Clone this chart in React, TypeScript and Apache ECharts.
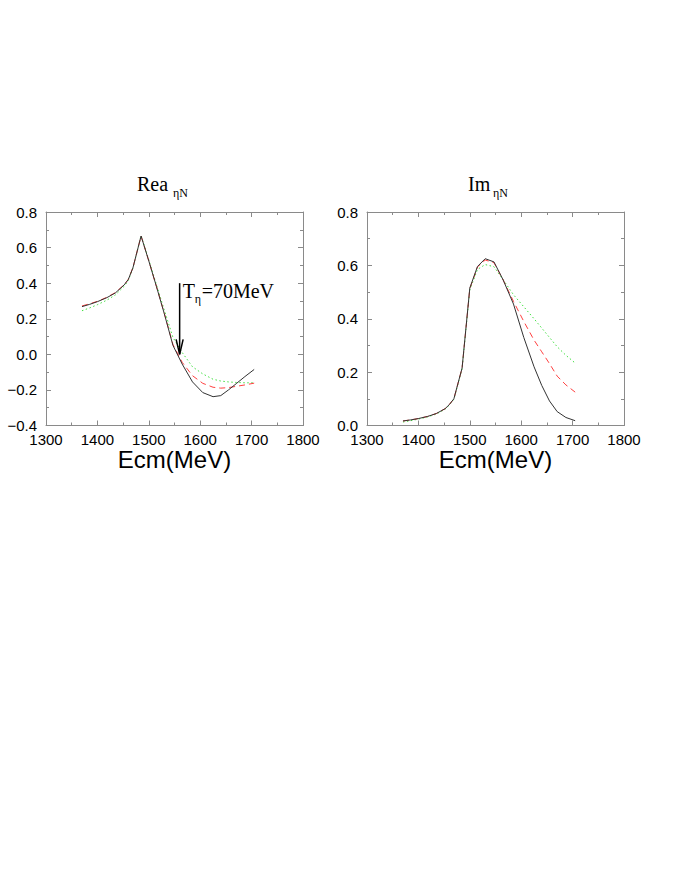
import React, { useEffect, useRef } from "react";
import * as echarts from "echarts";

// Energies (MeV) at which the curves are sampled
const energies = [1370, 1385, 1400, 1418, 1435, 1452, 1460, 1469, 1485, 1500, 1515, 1530, 1547, 1565, 1585, 1605, 1625, 1640, 1655, 1670, 1687, 1705];

// Real part of eta-N amplitude
const reSolid = [0.268, 0.281, 0.296, 0.318, 0.345, 0.39, 0.42, 0.485, 0.665, 0.525, 0.38, 0.23, 0.05, -0.055, -0.155, -0.215, -0.238, -0.232, -0.2, -0.165, -0.125, -0.085];
const reDashed = [0.272, 0.284, 0.298, 0.32, 0.347, 0.391, 0.421, 0.486, 0.665, 0.525, 0.38, 0.232, 0.055, -0.045, -0.12, -0.163, -0.185, -0.19, -0.187, -0.18, -0.172, -0.162];
const reDotted = [0.245, 0.261, 0.279, 0.304, 0.334, 0.382, 0.415, 0.483, 0.668, 0.53, 0.39, 0.25, 0.095, 0.01, -0.07, -0.11, -0.14, -0.15, -0.155, -0.158, -0.16, -0.16];

// Imaginary part of eta-N amplitude
const imSolid = [0.017, 0.021, 0.026, 0.034, 0.045, 0.063, 0.078, 0.1, 0.215, 0.515, 0.596, 0.625, 0.613, 0.545, 0.455, 0.33, 0.22, 0.15, 0.092, 0.052, 0.03, 0.018];
const imDashed = [0.017, 0.021, 0.026, 0.034, 0.045, 0.063, 0.078, 0.1, 0.215, 0.513, 0.594, 0.62, 0.61, 0.545, 0.465, 0.39, 0.32, 0.276, 0.232, 0.185, 0.152, 0.125];
const imDotted = [0.013, 0.018, 0.024, 0.032, 0.043, 0.061, 0.076, 0.098, 0.213, 0.508, 0.585, 0.603, 0.595, 0.546, 0.49, 0.445, 0.4, 0.365, 0.33, 0.295, 0.263, 0.234];

// Axis settings
const xRange = [1300, 1800];
const xStep = 100;
const reRange = [-0.4, 0.8];
const imRange = [0, 0.8];
const yStep = 0.2;

// Annotation arrow (data coordinates on the Re panel)
const arrowX = 1560;
const arrowTop = 0.4;
const arrowTip = 0.0;

const SANS = "'Liberation Sans', Arial, Helvetica, sans-serif";
const SERIF = "'Liberation Serif', 'Times New Roman', serif";
const FRAME = "#8a8a8a";

function mkX(gridIndex: number, bottom: boolean) {
  return {
    type: "value",
    gridIndex,
    min: xRange[0],
    max: xRange[1],
    interval: xStep,
    position: bottom ? "bottom" : "top",
    axisLine: { show: true, onZero: false, lineStyle: { color: FRAME, width: 1 } },
    axisTick: { show: true, inside: true, length: 5, lineStyle: { color: FRAME } },
    minorTick: { show: true, splitNumber: 2, length: 3, lineStyle: { color: FRAME } },
    splitLine: { show: false },
    axisLabel: bottom
      ? { show: true, color: "#000", fontSize: 15, fontFamily: SANS, margin: 6, formatter: (v: number) => String(v) }
      : { show: false },
    name: bottom ? "Ecm(MeV)" : "",
    nameLocation: "middle",
    nameGap: 20,
    nameTextStyle: { fontSize: 24, fontFamily: SANS, color: "#000" },
  };
}

function mkY(gridIndex: number, left: boolean, range: number[]) {
  return {
    type: "value",
    gridIndex,
    min: range[0],
    max: range[1],
    interval: yStep,
    position: left ? "left" : "right",
    axisLine: { show: true, onZero: false, lineStyle: { color: FRAME, width: 1 } },
    axisTick: { show: true, inside: true, length: 5, lineStyle: { color: FRAME } },
    minorTick: { show: true, splitNumber: 2, length: 3, lineStyle: { color: FRAME } },
    splitLine: { show: false },
    axisLabel: left
      ? {
          show: true,
          color: "#000",
          fontSize: 15,
          fontFamily: SANS,
          margin: 9,
          formatter: (v: number) => (Math.abs(v) < 1e-9 ? 0 : v).toFixed(1).replace("-", "\u2212"),
        }
      : { show: false },
  };
}

function mkSeries(values: number[], xi: number, yi: number, color: string, type: any, width: number) {
  return {
    type: "line",
    xAxisIndex: xi,
    yAxisIndex: yi,
    data: energies.map((e, i) => [e, values[i]]),
    showSymbol: false,
    symbol: "none",
    smooth: false,
    lineStyle: { color, width, type },
    z: 3,
  };
}

export default function App() {
  const ref = useRef<HTMLDivElement>(null);
  useEffect(() => {
    const chart = echarts.init(ref.current as HTMLDivElement, null, { renderer: "svg" });
    const red = "#ff4040";
    const green = "#40e040";
    const black = "#333";
    chart.setOption({
      animation: false,
      backgroundColor: "#fff",
      grid: [
        { left: 46, top: 212, width: 257, height: 213.5 },
        { left: 367, top: 212, width: 257, height: 213.5 },
      ],
      xAxis: [mkX(0, true), mkX(0, false), mkX(1, true), mkX(1, false)],
      yAxis: [mkY(0, true, reRange), mkY(0, false, reRange), mkY(1, true, imRange), mkY(1, false, imRange)],
      series: [
        mkSeries(reDotted, 0, 0, green, [1.5, 2.5], 1),
        mkSeries(reDashed, 0, 0, red, [6, 4], 1),
        mkSeries(reSolid, 0, 0, black, "solid", 1),
        mkSeries(imDotted, 2, 2, green, [1.5, 2.5], 1),
        mkSeries(imDashed, 2, 2, red, [6, 4], 1),
        mkSeries(imSolid, 2, 2, black, "solid", 1),
      ],
    });

    const top = chart.convertToPixel({ xAxisIndex: 0, yAxisIndex: 0 }, [arrowX, arrowTop]) as number[];
    const tip = chart.convertToPixel({ xAxisIndex: 0, yAxisIndex: 0 }, [arrowX, arrowTip]) as number[];
    const ax = top[0];

    chart.setOption({
      graphic: [
        { type: "line", shape: { x1: ax, y1: top[1], x2: tip[0], y2: tip[1] }, style: { stroke: "#000", lineWidth: 1.5 }, z: 10 },
        {
          type: "polyline",
          shape: { points: [[ax - 3.5, tip[1] - 15], [ax, tip[1]], [ax + 3.5, tip[1] - 15]] },
          style: { stroke: "#000", lineWidth: 1.5, fill: "none" },
          z: 10,
        },
        { type: "text", x: ax + 3, y: top[1] + 8, style: { text: "T", font: `20px ${SERIF}`, fill: "#000", verticalAlign: "middle" }, z: 10 },
        { type: "text", x: ax + 15, y: top[1] + 16, style: { text: "\u03b7", font: `12px ${SERIF}`, fill: "#000", verticalAlign: "middle" }, z: 10 },
        { type: "text", x: ax + 22, y: top[1] + 8, style: { text: "=70MeV", font: `20px ${SERIF}`, fill: "#000", verticalAlign: "middle" }, z: 10 },
        { type: "text", x: 137, y: 184, style: { text: "Rea", font: `20px ${SERIF}`, fill: "#000", verticalAlign: "middle" } },
        { type: "text", x: 173, y: 193, style: { text: "\u03b7N", font: `12px ${SERIF}`, fill: "#000", verticalAlign: "middle" } },
        { type: "text", x: 468, y: 184, style: { text: "Im", font: `20px ${SERIF}`, fill: "#000", verticalAlign: "middle" } },
        { type: "text", x: 493, y: 193, style: { text: "\u03b7N", font: `12px ${SERIF}`, fill: "#000", verticalAlign: "middle" } },
      ],
    });

    return () => chart.dispose();
  }, []);
  return <div ref={ref} style={{ position: "absolute", left: 0, top: 0, width: 684, height: 882 }} />;
}
